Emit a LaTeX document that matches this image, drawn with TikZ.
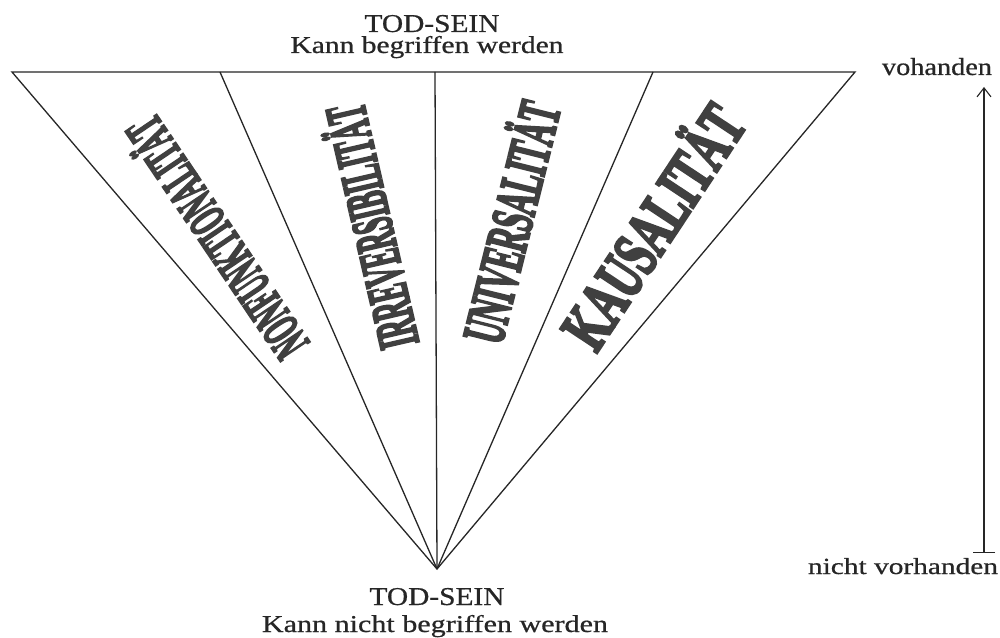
\documentclass[tikz,border=0pt]{standalone}
\usepackage{fontspec}
\setmainfont{Liberation Serif}[FakeBold=0.6]
\newfontfamily\heavyfont{Liberation Serif Bold}[FakeBold=5]
\usetikzlibrary{arrows.meta}
\definecolor{ink}{gray}{0.15}
\definecolor{bigink}{gray}{0.25}
\tikzset{
  edge/.style={draw=ink, line width=1.3pt, line join=miter},
  lbl/.style={anchor=base, inner sep=0pt, text=ink},
  big/.style={anchor=base, inner sep=0pt, text=bigink},
}
\newcommand{\fitbox}[3]{\resizebox{#1pt}{#2pt}{#3}}
\newcommand{\bigword}[3]{\scalebox{#1}[1]{\fontsize{#2}{#2}\heavyfont #3}}
\begin{document}
\begin{tikzpicture}[x=1pt,y=1pt]
\useasboundingbox[fill=white] (0,0) rectangle (1000,637);
% corners
\coordinate (TL) at (12,565);
\coordinate (T1) at (220,565);
\coordinate (T2) at (435,565);
\coordinate (T3) at (653,565);
\coordinate (TR) at (855,565);
\coordinate (AP) at (437,68);
% triangle and rays
\draw[edge] (TL) -- (TR) -- (AP) -- cycle;
\draw[edge] (T1) -- (AP);
\draw[edge] (T2) -- (AP);
\draw[edge] (T3) -- (AP);
% top labels
\node[lbl] (topA) at (432,605) {\fitbox{135}{17}{TOD-SEIN}};
\node[lbl] (topB) at (427,584) {\fitbox{273}{17}{Kann begriffen werden}};
% bottom labels
\node[lbl] (botA) at (437,32) {\fitbox{135}{17}{TOD-SEIN}};
\node[lbl] (botB) at (435,5) {\fitbox{346}{17}{Kann nicht begriffen werden}};
% wedge words
\node[big, rotate=124] (w1) at (232,410) {\bigword{0.46}{53}{NONFUNKTIONALITÄT}};
\node[big, rotate=103] (w2) at (391,415) {\bigword{0.442}{57.7}{IRREVERSIBILITÄT}};
\node[big, rotate=76] (w3) at (531,410) {\bigword{0.50}{59}{UNIVERSALITÄT}};
\node[big, rotate=56.5] (w4) at (672,398) {\bigword{0.63}{66}{KAUSALITÄT}};
% right scale
\node[lbl] (hi) at (937,562) {\fitbox{110}{17}{vohanden}};
\node[lbl] (lo) at (903,63) {\fitbox{190}{16}{nicht vorhanden}};
\coordinate (abot) at (984,84);
\coordinate (atop) at (984,550);
\draw[edge, line width=1.1pt, {Bar[width=22pt]}-{Straight Barb[length=9pt,width=14pt]}] (abot) -- (atop);
\end{tikzpicture}
\end{document}
